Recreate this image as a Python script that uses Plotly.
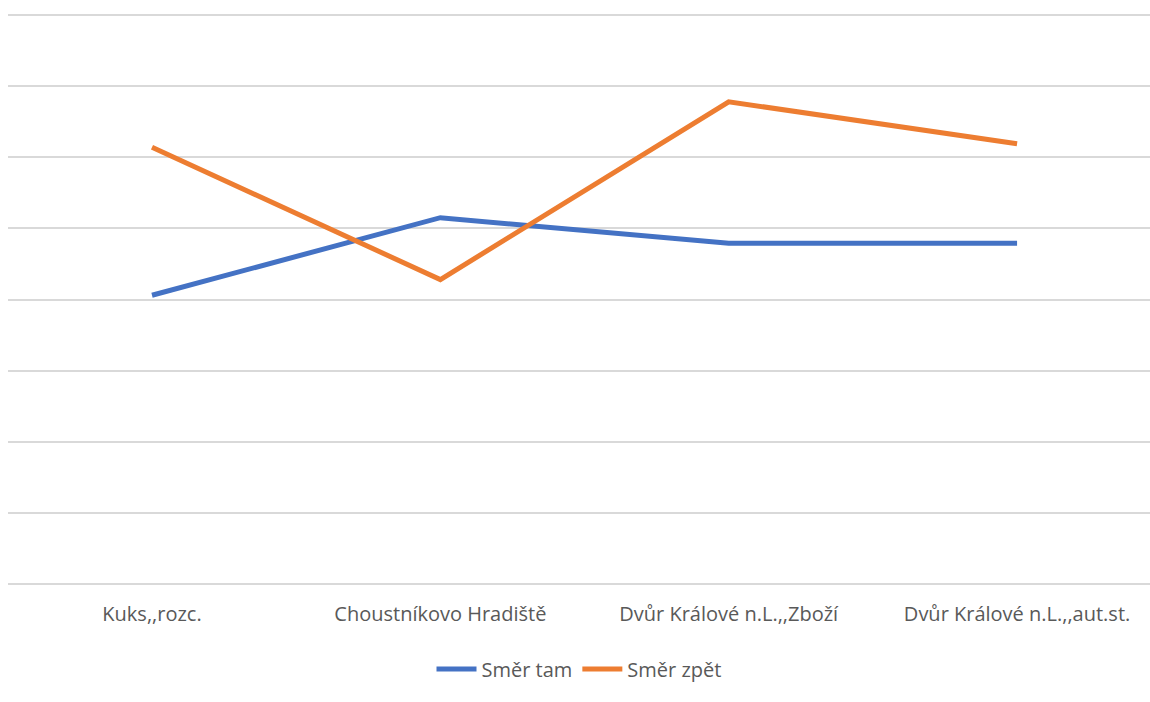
import plotly.graph_objects as go

stops = ["Kuks,,rozc.", "Choustníkovo Hradiště", "Dvůr Králové n.L.,,Zboží", "Dvůr Králové n.L.,,aut.st."]
smer_tam = [4.06, 5.15, 4.79, 4.79]
smer_zpet = [6.14, 4.28, 6.78, 6.19]

BLUE = "#4472C4"
ORANGE = "#ED7D31"
TEXT = "#595959"
GRID = "#D9D9D9"
FONT = "Open Sans, Noto Sans, sans-serif"

fig = go.Figure()
fig.add_trace(go.Scatter(x=stops, y=smer_tam, name="Směr tam", mode="lines",
                         line=dict(color=BLUE, width=5)))
fig.add_trace(go.Scatter(x=stops, y=smer_zpet, name="Směr zpět", mode="lines",
                         line=dict(color=ORANGE, width=5)))

fig.update_layout(
    width=1150, height=702,
    margin=dict(l=8, r=0, t=13, b=116),
    paper_bgcolor="white", plot_bgcolor="white",
    font=dict(family=FONT, size=20, color=TEXT),
    showlegend=True,
    legend=dict(orientation="h", x=0.5, xanchor="center",
                yref="container", y=1 - 669 / 702, yanchor="middle",
                font=dict(family=FONT, size=20, color=TEXT),
                itemwidth=40, tracegroupgap=0),
    xaxis=dict(type="category", range=[-0.4994, 3.461], showgrid=False,
               zeroline=False, showline=False, ticks="", ticklabelstandoff=14,
               tickfont=dict(family=FONT, size=20, color=TEXT)),
    yaxis=dict(range=[-0.028, 8.028], dtick=1, tick0=0, showgrid=True,
               gridcolor=GRID, gridwidth=2, zeroline=False, showline=False,
               showticklabels=False, ticks=""),
)

fig.write_html("out.html")
